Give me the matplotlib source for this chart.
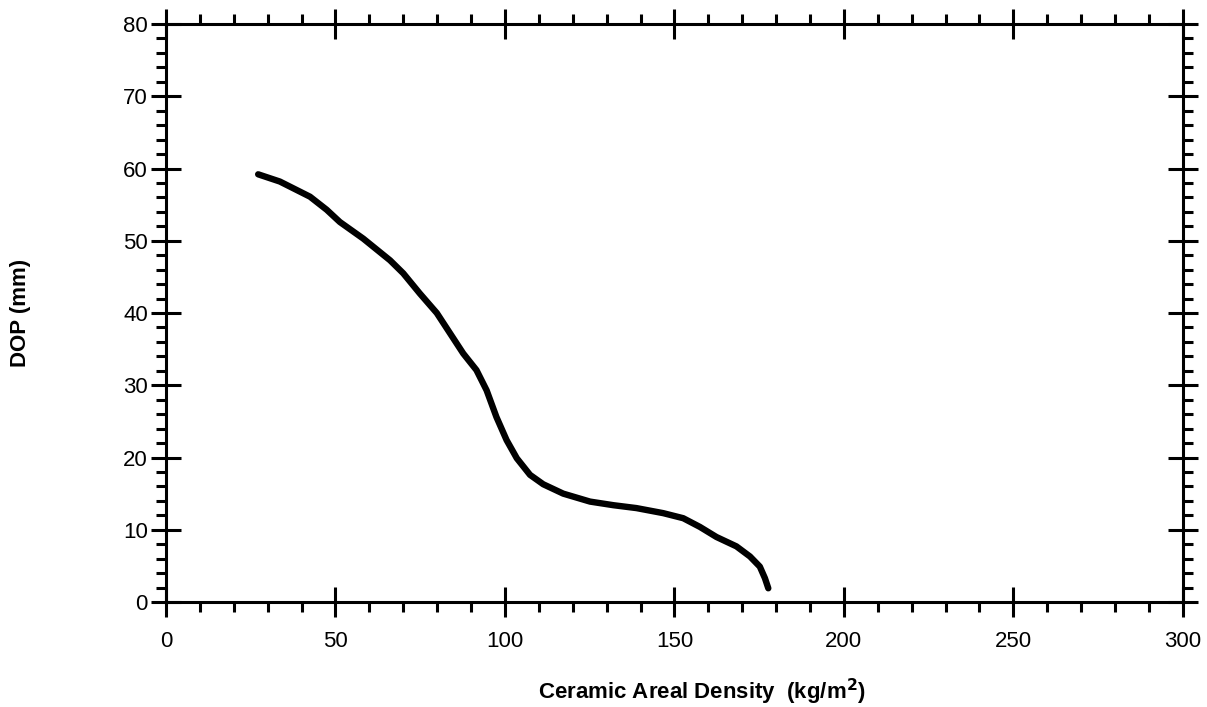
import matplotlib.pyplot as plt
from matplotlib.ticker import MultipleLocator

plt.rcParams['font.family'] = ['Liberation Sans', 'DejaVu Sans']

# values
density = [27.2, 33.6, 42.5, 47.4, 51.3, 58.2, 66.1, 70.0, 74.9, 79.9, 83.8,
           87.7, 91.6, 94.6, 97.5, 100.5, 103.5, 107.4, 111.3, 117.2, 125.1,
           132.0, 138.8, 146.7, 152.6, 157.5, 162.4, 168.3, 172.3, 175.2,
           176.7, 177.7]
dop = [59.2, 58.2, 56.1, 54.3, 52.6, 50.3, 47.3, 45.5, 42.7, 40.0, 37.2,
       34.4, 32.1, 29.3, 25.6, 22.4, 19.9, 17.6, 16.3, 15.0, 13.9,
       13.4, 13.0, 12.3, 11.6, 10.4, 9.0, 7.7, 6.3, 4.9,
       3.3, 1.9]

fig = plt.figure(figsize=(12.07, 7.07), dpi=100)
ax = fig.add_axes([0.1375, 0.1485, 0.8425, 0.8175])

ax.plot(density, dop, color='black', lw=4.6, solid_capstyle='round',
        solid_joinstyle='round')

ax.set_xlim(0, 300)
ax.set_ylim(0, 80)
ax.xaxis.set_major_locator(MultipleLocator(50))
ax.xaxis.set_minor_locator(MultipleLocator(10))
ax.yaxis.set_major_locator(MultipleLocator(10))
ax.yaxis.set_minor_locator(MultipleLocator(2))

ax.tick_params(which='major', direction='inout', length=22, width=2.2,
               top=True, right=True, labelsize=16)
ax.tick_params(axis='x', which='major', pad=10)
ax.tick_params(axis='y', which='major', pad=2)
ax.tick_params(which='minor', direction='out', length=7, width=2.2,
               top=True, right=True)
for s in ax.spines.values():
    s.set_linewidth(2.2)

ax.set_xlabel('Ceramic Areal Density  (kg/m$^\\mathbf{2}$)', fontsize=16,
              fontweight='bold', labelpad=18, x=0.527)
ax.set_ylabel('DOP (mm)', fontsize=16, fontweight='bold', labelpad=66)

fig.savefig('out.png', dpi=100)
